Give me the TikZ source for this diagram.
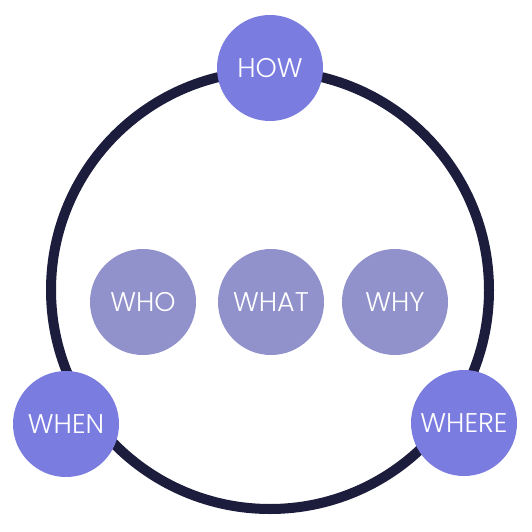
\documentclass[tikz,border=0pt]{standalone}
\usepackage{fontspec}
\setmainfont{Poppins}[UprightFont=* Light]
\definecolor{outerc}{HTML}{7B7CE0}
\definecolor{innerc}{HTML}{9191CC}
\definecolor{ringc}{HTML}{1C1C3C}
\begin{document}
\begin{tikzpicture}[x=1pt,y=1pt,
  bubble/.style={circle,inner sep=0pt,minimum size=106pt,text=white,font=\fontsize{27}{30}\selectfont},
  outerb/.style={bubble,fill=outerc},
  innerb/.style={bubble,fill=innerc}]
\useasboundingbox[fill=white] (0,0) rectangle (532,531);
\node[circle,draw=ringc,line width=10pt,minimum size=438pt,inner sep=0pt] (ring) at (270,241) {};
\node[outerb] (how) at (270,463) {HOW};
\node[outerb] (when) at (66,107) {WHEN};
\node[outerb] (where) at (464,108) {WHERE};
\node[innerb] (who) at (143,229) {WHO};
\node[innerb] (what) at (271,229) {WHAT};
\node[innerb] (why) at (395,229) {WHY};
\end{tikzpicture}
\end{document}
